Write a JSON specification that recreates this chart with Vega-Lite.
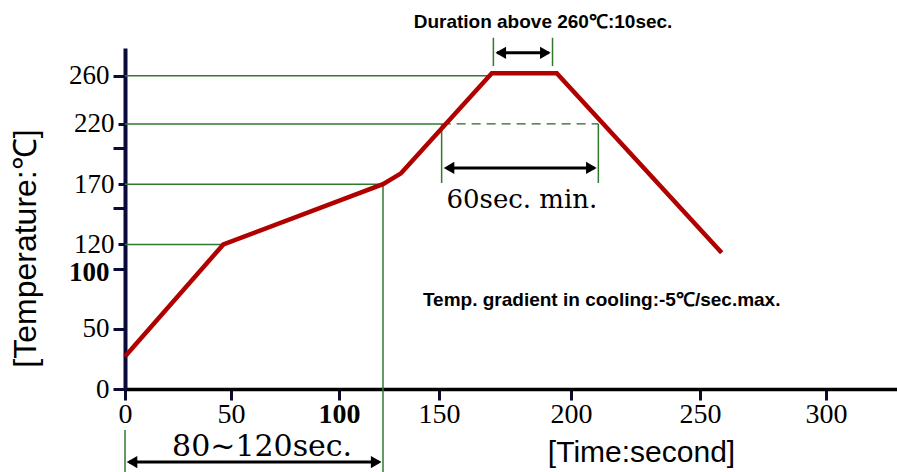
{
  "$schema": "https://vega.github.io/schema/vega-lite/v6.json",
  "width": 772,
  "height": 341,
  "autosize": {"type": "none"},
  "padding": {"left": 125, "top": 48, "right": 0, "bottom": 83},
  "background": "white",
  "config": {"view": {"stroke": null}},
  "datasets": {
    "curve": [
      {"t": 0, "temp": 27},
      {"t": 46.4, "temp": 120},
      {"t": 122, "temp": 170},
      {"t": 131, "temp": 179},
      {"t": 170, "temp": 262},
      {"t": 194.6, "temp": 262},
      {"t": 258.6, "temp": 113}
    ],
    "guides": [
      {"t": 0, "t2": 46.4, "temp": 120, "temp2": 120},
      {"t": 0, "t2": 122, "temp": 170, "temp2": 170},
      {"t": 0, "t2": 151, "temp": 220, "temp2": 220},
      {"t": 0, "t2": 170, "temp": 260, "temp2": 260},
      {"t": 122, "t2": 122, "temp": 170, "temp2": -69},
      {"t": 0, "t2": 0, "temp": -34, "temp2": -69},
      {"t": 151, "t2": 151, "temp": 220, "temp2": 171},
      {"t": 210.6, "t2": 210.6, "temp": 220, "temp2": 171},
      {"t": 170.6, "t2": 170.6, "temp": 291.5, "temp2": 268},
      {"t": 193, "t2": 193, "temp": 291.5, "temp2": 268}
    ],
    "dashed": [
      {"t": 151, "t2": 210.6, "temp": 220, "temp2": 220}
    ],
    "arrows": [
      {"t": 2, "t2": 120, "temp": -60.6, "temp2": -60.6},
      {"t": 153, "t2": 209, "temp": 183.5, "temp2": 183.5},
      {"t": 172, "t2": 191.5, "temp": 279, "temp2": 279}
    ],
    "heads": [
      {"t": 3.3, "temp": -60.6, "dir": "left"},
      {"t": 118.6, "temp": -60.6, "dir": "right"},
      {"t": 153.8, "temp": 183.5, "dir": "left"},
      {"t": 207.9, "temp": 183.5, "dir": "right"},
      {"t": 173.4, "temp": 279, "dir": "left"},
      {"t": 190.3, "temp": 279, "dir": "right"}
    ],
    "sansNotes": [
      {"t": 189.4, "temp": 304.8, "label": "Duration above 260℃:10sec."},
      {"t": 211.9, "temp": 73.9, "label": "Temp. gradient in cooling:-5℃/sec.max."}
    ],
    "serifNotes": [
      {"t": 181.4, "temp": 157, "label": "60sec. min."}
    ],
    "serifNotesLarge": [
      {"t": 64.4, "temp": -48.2, "label": "80~120sec."}
    ]
  },
  "encoding": {
    "x": {
      "field": "t",
      "type": "quantitative",
      "scale": {
        "domain": [0, 50, 100, 150, 200, 250, 300, 328],
        "range": [0, 106, 214, 314, 446, 575, 701, 772],
        "nice": false,
        "zero": false
      },
      "axis": {
        "values": [0, 50, 100, 150, 200, 250, 300],
        "grid": false,
        "labelOverlap": false,
        "labelBound": false,
        "labelFlush": false,
        "domainColor": "#000000",
        "domainWidth": 3.5,
        "tickColor": "#0b0b30",
        "tickWidth": 3,
        "tickSize": 11,
        "labelFont": "Liberation Serif",
        "labelFontSize": 28,
        "labelColor": "#000000",
        "labelPadding": 0,
        "labelFontWeight": {"condition": {"test": "datum.value == 100", "value": "bold"}, "value": "normal"},
        "title": "[Time:second]",
        "titleFont": "Liberation Sans",
        "titleFontSize": 30,
        "titleFontWeight": "normal",
        "titleColor": "#000000",
        "titleX": 516,
        "titleY": 63,
        "titleBaseline": "middle",
        "titleAlign": "center"
      }
    },
    "y": {
      "field": "temp",
      "type": "quantitative",
      "scale": {"domain": [0, 283], "nice": false, "zero": false},
      "axis": {
        "values": [0, 50, 100, 120, 150, 170, 200, 220, 260],
        "labelExpr": "datum.value == 150 || datum.value == 200 ? '' : datum.label",
        "grid": false,
        "labelOverlap": false,
        "labelBound": false,
        "labelFlush": false,
        "domainColor": "#0b0b3b",
        "domainWidth": 4,
        "tickColor": "#0b0b3b",
        "tickWidth": 3,
        "tickSize": {"condition": {"test": "datum.value == 120 || datum.value == 170 || datum.value == 220", "value": 7}, "value": 12},
        "labelFont": "Liberation Serif",
        "labelFontSize": 27,
        "labelColor": "#000000",
        "labelPadding": 4,
        "labelOffset": {"condition": {"test": "datum.value == 100", "value": 4}, "value": 0},
        "labelFontWeight": {"condition": {"test": "datum.value == 100", "value": "bold"}, "value": "normal"},
        "title": "[Temperature:℃]",
        "titleFont": "Liberation Sans",
        "titleFontSize": 32,
        "titleFontWeight": "normal",
        "titleColor": "#000000",
        "titleX": -100,
        "titleY": 200,
        "titleAngle": -90,
        "titleBaseline": "middle",
        "titleAlign": "center"
      }
    }
  },
  "layer": [
    {
      "data": {"name": "guides"},
      "mark": {"type": "rule", "color": "#2f7a2f", "strokeWidth": 1.5},
      "encoding": {"x2": {"field": "t2"}, "y2": {"field": "temp2"}}
    },
    {
      "data": {"name": "dashed"},
      "mark": {"type": "rule", "color": "#2f5f2f", "strokeWidth": 1.3, "strokeDash": [9, 6]},
      "encoding": {"x2": {"field": "t2"}, "y2": {"field": "temp2"}}
    },
    {
      "data": {"name": "curve"},
      "mark": {"type": "line", "color": "#b00000", "strokeWidth": 4.5, "strokeJoin": "miter"},
      "encoding": {}
    },
    {
      "data": {"name": "arrows"},
      "mark": {"type": "rule", "color": "#000000", "strokeWidth": 3},
      "encoding": {"x2": {"field": "t2"}, "y2": {"field": "temp2"}}
    },
    {
      "data": {"name": "heads"},
      "mark": {"type": "point", "filled": true, "color": "#000000", "opacity": 1, "size": 150},
      "encoding": {
        "shape": {
          "field": "dir",
          "type": "nominal",
          "scale": {"domain": ["left", "right"], "range": ["triangle-left", "triangle-right"]},
          "legend": null
        }
      }
    },
    {
      "data": {"name": "sansNotes"},
      "mark": {"type": "text", "font": "Liberation Sans", "fontSize": 19, "fontWeight": "bold", "color": "#000000", "align": "center", "baseline": "middle"},
      "encoding": {"text": {"field": "label"}}
    },
    {
      "data": {"name": "serifNotes"},
      "mark": {"type": "text", "font": "DejaVu Serif", "fontSize": 26, "color": "#000000", "align": "center", "baseline": "middle"},
      "encoding": {"text": {"field": "label"}}
    },
    {
      "data": {"name": "serifNotesLarge"},
      "mark": {"type": "text", "font": "DejaVu Serif", "fontSize": 30, "color": "#000000", "align": "center", "baseline": "middle"},
      "encoding": {"text": {"field": "label"}}
    }
  ]
}
